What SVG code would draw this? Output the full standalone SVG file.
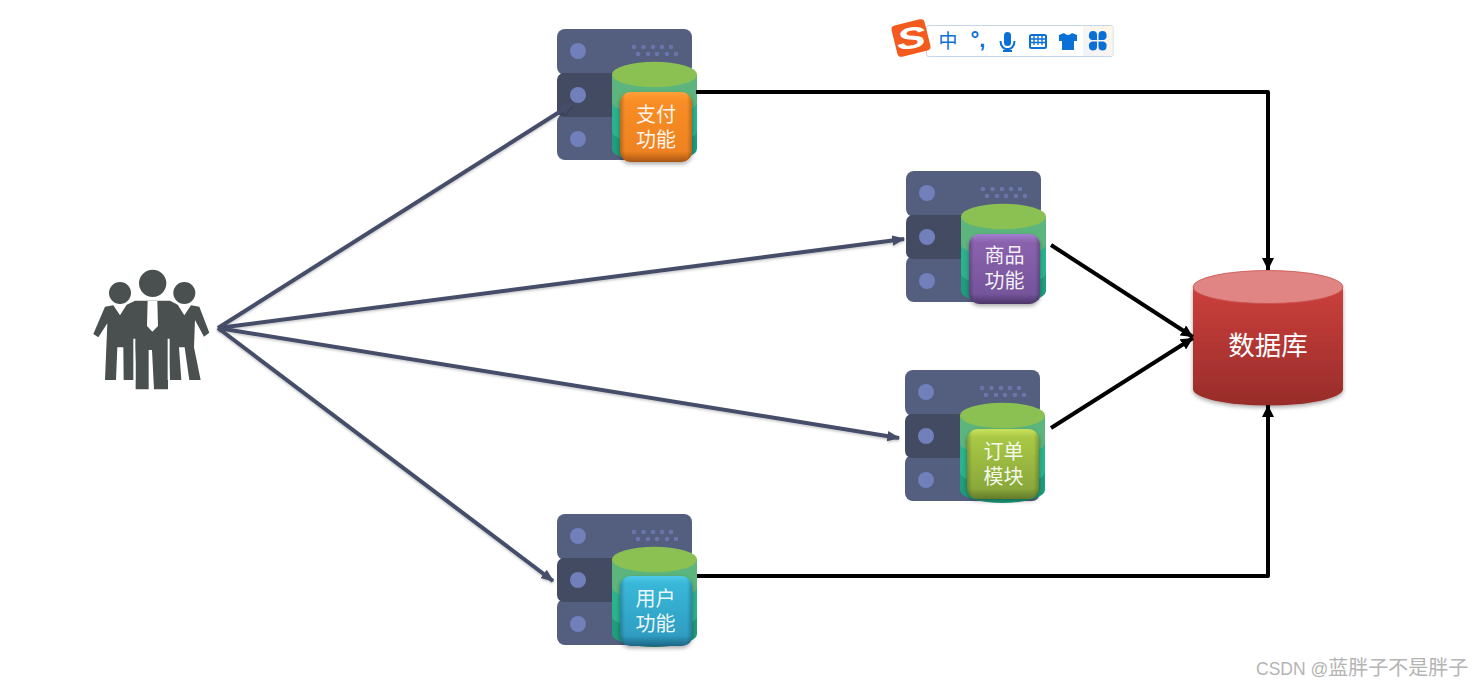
<svg xmlns="http://www.w3.org/2000/svg" width="1482" height="688" viewBox="0 0 1482 688">
<style>
.srv{fill:#545e7e}.srvd{fill:#434b63}.led{fill:#717fbb}.dot{fill:#6a76ab}
.lbl{font-family:"Liberation Sans","Noto Sans CJK SC",sans-serif;fill:#fff;font-size:20px;text-anchor:middle;fill-opacity:.93}
.ppl{fill:#4a5050}
.user{fill:none;stroke:#454d69;stroke-width:4;marker-end:url(#ah1);filter:url(#ls)}
.dbl{fill:none;stroke:#000;stroke-width:4;marker-end:url(#ah2);stroke-linejoin:round}
.ic{fill:#0b6fd8}
.icl{fill:none;stroke:#0b6fd8;stroke-width:2}
.shade{fill:url(#gEdge)}
</style>
<defs>
<marker id="ah1" markerWidth="13" markerHeight="13" refX="9" refY="4" orient="auto" markerUnits="userSpaceOnUse" viewBox="0 0 10 8"><path d="M0 0L10 4L0 8Z" fill="#454d69"/></marker>
<marker id="ah2" markerWidth="12" markerHeight="12" refX="10" refY="5" orient="auto" markerUnits="userSpaceOnUse" viewBox="0 0 10 10"><path d="M0 0L10 5L0 10Z" fill="#000"/></marker>
<filter id="ls" x="-5%" y="-5%" width="110%" height="110%"><feDropShadow dx="0" dy="1.5" stdDeviation="1.2" flood-color="#000" flood-opacity=".22"/></filter>
<filter id="bs" x="-20%" y="-20%" width="140%" height="140%"><feDropShadow dx="0" dy="2" stdDeviation="2" flood-color="#000" flood-opacity=".35"/></filter>
<linearGradient id="gEdge" x1="0" y1="0" x2="1" y2="0"><stop offset="0" stop-color="#000" stop-opacity=".22"/><stop offset=".07" stop-color="#000" stop-opacity="0"/><stop offset=".93" stop-color="#000" stop-opacity="0"/><stop offset="1" stop-color="#000" stop-opacity=".22"/></linearGradient>
<linearGradient id="gO" x1="0" y1="0" x2="0" y2="1"><stop offset="0" stop-color="#ffa23a"/><stop offset=".12" stop-color="#f98d26"/><stop offset=".85" stop-color="#ee8220"/><stop offset="1" stop-color="#a95612"/></linearGradient>
<linearGradient id="gP" x1="0" y1="0" x2="0" y2="1"><stop offset="0" stop-color="#a47fd0"/><stop offset=".12" stop-color="#8a62ad"/><stop offset=".85" stop-color="#76559c"/><stop offset="1" stop-color="#4a3568"/></linearGradient>
<linearGradient id="gG" x1="0" y1="0" x2="0" y2="1"><stop offset="0" stop-color="#c8e25a"/><stop offset=".12" stop-color="#a9c845"/><stop offset=".85" stop-color="#8aa83a"/><stop offset="1" stop-color="#627a28"/></linearGradient>
<linearGradient id="gB" x1="0" y1="0" x2="0" y2="1"><stop offset="0" stop-color="#4cc8e8"/><stop offset=".12" stop-color="#39b7d8"/><stop offset=".85" stop-color="#2f9dc2"/><stop offset="1" stop-color="#1c6686"/></linearGradient>
<linearGradient id="gDb" x1="0" y1="0" x2="0" y2="1"><stop offset="0" stop-color="#cb403c"/><stop offset="1" stop-color="#982c2a"/></linearGradient>
<linearGradient id="gHi" x1="0" y1="1" x2="1" y2="0"><stop offset="0" stop-color="#f1f3fc"/><stop offset="1" stop-color="#fff7e2"/></linearGradient>
<g id="server">
<rect class="srv" x="0" y="0" width="135" height="46" rx="8"/>
<rect class="srv" x="0" y="85" width="135" height="46" rx="8"/>
<rect class="srvd" x="0" y="44" width="135" height="44" rx="7"/>
<circle class="led" cx="21" cy="22" r="8"/><circle class="led" cx="21" cy="66" r="8"/><circle class="led" cx="21" cy="110" r="8"/>
<g class="dot"><circle cx="77" cy="18" r="2.3"/><circle cx="86.500" cy="18" r="2.3"/><circle cx="96" cy="18" r="2.3"/><circle cx="105" cy="18" r="2.3"/><circle cx="114" cy="18" r="2.3"/><circle cx="81" cy="25" r="2.3"/><circle cx="91" cy="25" r="2.3"/><circle cx="100" cy="25" r="2.3"/><circle cx="110" cy="25" r="2.3"/><circle cx="119" cy="25" r="2.3"/></g>
<path d="M55 45V120A42.500 13 0 0 0 140 120V45Z" fill="#1f9d7c"/>
<path d="M55 45V102A42.500 13 0 0 0 140 102V45Z" fill="#2bb38d"/>
<path d="M55 45V73A42.500 13 0 0 0 140 73V45Z" fill="#5cb57c"/>
<ellipse cx="97.500" cy="45.500" rx="42.500" ry="12.800" fill="#8bc153"/>
</g>
</defs>
<rect width="1482" height="688" fill="#fff"/>

<g id="node-pay" transform="translate(557 29)">
<use href="#server"/>
<rect x="63" y="63" width="72" height="70" rx="11" fill="url(#gO)" filter="url(#bs)"/>
<rect class="shade" x="63" y="63" width="72" height="70" rx="11"/>
<text class="lbl" x="99" y="93">支付</text><text class="lbl" x="99" y="118">功能</text>
</g>
<g id="node-goods" transform="translate(906 171)">
<use href="#server"/>
<rect x="63" y="63" width="71" height="70" rx="11" fill="url(#gP)" filter="url(#bs)"/>
<rect class="shade" x="63" y="63" width="71" height="70" rx="11"/>
<text class="lbl" x="98.500" y="92">商品</text><text class="lbl" x="98.500" y="117">功能</text>
</g>
<g id="node-order" transform="translate(905 370)">
<use href="#server"/>
<rect x="62" y="59" width="72" height="70" rx="11" fill="url(#gG)" filter="url(#bs)"/>
<rect class="shade" x="62" y="59" width="72" height="70" rx="11"/>
<text class="lbl" x="98.500" y="89">订单</text><text class="lbl" x="98.500" y="114">模块</text>
</g>
<g id="node-user" transform="translate(557 514)">
<use href="#server"/>
<rect x="63" y="62" width="72" height="70" rx="11" fill="url(#gB)" filter="url(#bs)"/>
<rect class="shade" x="63" y="62" width="72" height="70" rx="11"/>
<text class="lbl" x="98.500" y="92">用户</text><text class="lbl" x="98.500" y="117">功能</text>
</g>

<g id="node-people" transform="translate(80 260) scale(.3333)">
<path class="ppl" d="M75 140L100 136L120 166L140 134L165 122H270L293 134L313 166L333 136L358 140L388 218L372 230L345 180L342 262L362 360H328L314 262H297L304 360H270L264 262V388H222L216 270H206V388H167V262L163 360H131L130 262H112L108 360H75L82 190L55 232L40 222Z"/>
<circle class="ppl" cx="120" cy="99" r="33"/><circle class="ppl" cx="313" cy="99" r="33"/><circle class="ppl" cx="218" cy="70" r="41"/>
<path d="M203 123H232L234 198L217 215L201 198Z" fill="#fff"/>
<path d="M163 236V360M266 236V360" stroke="#fff" stroke-width="6" fill="none"/>
</g>

<g id="node-db">
<path d="M1193 287V389A75 16.500 0 0 0 1343 389V287Z" fill="url(#gDb)" filter="url(#bs)"/>
<ellipse cx="1268" cy="287" rx="75" ry="16.500" fill="#e08583" stroke="#c8504d" stroke-width=".8"/>
<text x="1268" y="355" font-family="Liberation Sans,Noto Sans CJK SC,sans-serif" font-size="26.500" fill="#fff" text-anchor="middle">数据库</text>
</g>

<g id="connectors">
<path class="user" d="M218 328L572 104"/>
<path class="user" d="M218 328L904 239"/>
<path class="user" d="M218 328L899 438"/>
<path class="user" d="M218 328L553 581"/>
<path class="dbl" d="M696 92H1268V270"/>
<path class="dbl" d="M1051 245L1193 337"/>
<path class="dbl" d="M1051 428L1193 338"/>
<path class="dbl" d="M697 576H1268V405"/>
</g>

<g id="ime-toolbar">
<rect x="926.500" y="25.500" width="186.500" height="31" rx="2" fill="#fff" stroke="#c5d5ea"/>
<rect x="1083" y="26" width="29.500" height="30" fill="url(#gHi)"/>
<rect x="894" y="22" width="34" height="32" rx="4" fill="#f4591d" transform="rotate(-14 911 38)"/>
<text font-family="Liberation Sans,sans-serif" font-weight="bold" font-style="italic" font-size="35" fill="#fff" text-anchor="middle" transform="rotate(-8 911 38) translate(911 38) scale(1.25 .85)" y="12">S</text>
<text x="948" y="47.500" font-family="Liberation Sans,Noto Sans CJK SC,sans-serif" font-size="19" fill="#0b6fd8" text-anchor="middle">中</text>
<text x="978" y="47" font-family="Liberation Sans,sans-serif" font-size="22" font-weight="bold" fill="#0b6fd8" text-anchor="middle">°,</text>
<rect class="ic" x="1004" y="32" width="7" height="14" rx="3.500"/>
<path class="icl" d="M1000.500 41C1000.500 52 1014.500 52 1014.500 41M1007.500 48V51"/><path class="ic" d="M1003 50h9v2h-9z"/>
<rect class="icl" x="1030" y="35" width="16" height="13" rx="1.500"/>
<path d="M1030 39h16M1030 42.500h16M1034 35v10M1038 35v10M1042 35v10" stroke="#0b6fd8" stroke-width="1.300" fill="none"/>
<path class="ic" d="M1064 33L1059 35L1059 41L1062 41V50H1074V41L1077 41V35L1072 33Q1068 37 1064 33Z"/>
<g class="ic"><path d="M1097 40V35A3.500 3.500 0 0 0 1089 35A4 4 0 0 0 1092 40Z"/><path d="M1098.500 40V35A3.500 3.500 0 0 1 1106.500 35A4 4 0 0 1 1103.500 40Z"/><path d="M1097 41.500V46.500A3.500 3.500 0 0 1 1089 46.500A4 4 0 0 1 1092 41.500Z"/><path d="M1098.500 41.500V46.500A3.500 3.500 0 0 0 1106.500 46.500A4 4 0 0 0 1103.500 41.500Z"/></g>
</g>

<text id="watermark" x="1256" y="675" font-family="Liberation Sans,Noto Sans CJK SC,sans-serif" fill="#b4b4b4"><tspan font-size="17.500">CSDN @</tspan><tspan font-size="20">蓝胖子不是胖子</tspan></text>
</svg>
